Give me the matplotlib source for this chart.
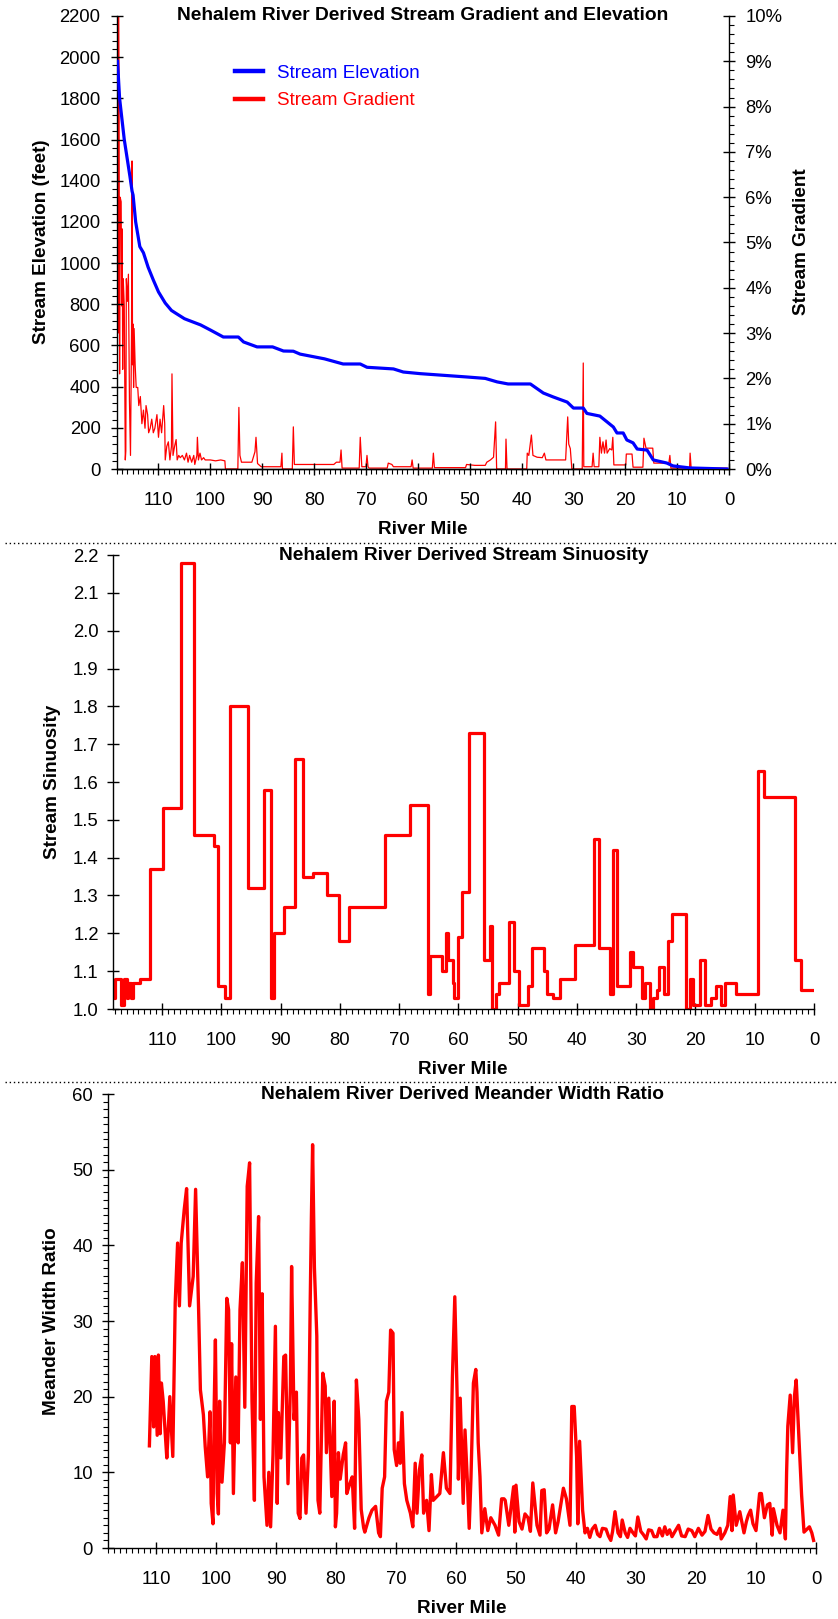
import numpy as np
import matplotlib.pyplot as plt
from matplotlib.lines import Line2D
from matplotlib.ticker import MultipleLocator, FuncFormatter

plt.rcParams['font.family'] = ['Liberation Sans', 'DejaVu Sans']

# stream elevation profile (river mile, feet)
elev_mile = [117.9, 117.5, 116.6, 115.5, 115.1, 114.9, 114.4, 113.6, 112.9, 112.0,
             111.0, 110.0, 108.7, 107.5, 106.7, 105.0, 104.4, 101.9, 100.0, 97.5,
             94.6, 93.6, 91.0, 88.0, 85.9, 84.0, 82.7, 78.0, 74.4, 71.1,
             69.8, 64.7, 62.8, 59.5, 50.6, 47.0, 44.7, 42.6, 38.3, 35.8,
             33.9, 31.2, 30.0, 28.1, 27.4, 24.9, 22.3, 21.6, 20.4, 19.7,
             18.5, 17.7, 15.8, 14.6, 12.0, 10.8, 7.5, 0.4]
elev_ft = [1980, 1800, 1600, 1420, 1350, 1330, 1200, 1080, 1050, 980,
           918, 860, 806, 770, 757, 730, 724, 700, 675, 641,
           641, 617, 593, 593, 573, 572, 558, 535, 510, 510,
           494, 486, 471, 463, 447, 440, 423, 413, 413, 369,
           350, 325, 296, 296, 270, 257, 204, 175, 175, 141,
           127, 97, 92, 44, 29, 15, 5, 0]

# stream gradient (river mile, percent)
grad_mile = [118.0, 117.9, 117.8, 117.7, 117.6, 117.5, 117.4, 117.2, 117.1, 117.0,
             116.9, 116.8, 116.6, 116.4, 116.3, 116.2, 116.0, 115.8, 115.6, 115.4,
             115.2, 115.1, 115.0, 114.9, 114.8, 114.7, 114.5, 114.3, 114.0, 113.8,
             113.5, 113.2, 112.9, 112.6, 112.4, 112.1, 111.9, 111.6, 111.3, 111.0,
             110.7, 110.3, 110.0, 109.7, 109.4, 109.0, 108.8, 108.7, 108.4, 108.1,
             107.8, 107.5, 107.4, 107.2, 106.9, 106.6, 106.4, 106.1, 105.8, 105.4,
             105.0, 104.6, 104.3, 104.0, 103.6, 103.2, 103.0, 102.6, 102.5, 102.3,
             102.0, 101.7, 101.3, 101.0, 100.6, 100.0, 99.0, 98.0, 97.2, 97.1,
             94.7, 94.5, 94.3, 94.0, 93.0, 92.0, 91.4, 91.2, 90.9, 90.2,
             88.0, 86.4, 86.2, 86.1, 84.2, 84.0, 83.8, 80.0, 76.2, 75.7,
             75.0, 74.8, 74.6, 71.3, 71.1, 70.8, 70.0, 69.8, 69.6, 69.4,
             65.9, 65.7, 65.0, 64.7, 61.3, 61.1, 60.9, 57.2, 57.0, 56.8,
             50.8, 50.6, 49.0, 47.0, 46.7, 46.0, 45.4, 45.0, 44.8, 43.1,
             43.0, 42.8, 39.0, 38.9, 38.6, 38.1, 37.8, 37.0, 36.0, 35.6,
             35.3, 33.0, 31.5, 31.1, 30.9, 30.6, 30.3, 28.3, 28.1, 28.0,
             26.4, 26.2, 26.0, 25.1, 24.9, 24.6, 24.3, 24.0, 23.7, 23.5,
             23.0, 22.6, 22.4, 22.2, 19.9, 19.8, 18.7, 18.5, 16.6, 16.4,
             16.0, 14.7, 14.5, 11.6, 11.4, 11.2, 7.6, 7.5, 7.3, 0.4]
grad_pct = [7.5, 10.0, 3.0, 10.0, 8.2, 2.1, 6.0, 5.9, 3.6, 5.3,
            2.2, 4.2, 3.6, 0.2, 0.4, 4.2, 3.7, 4.3, 1.5, 0.3,
            3.0, 6.8, 2.3, 3.2, 1.8, 3.1, 2.3, 1.8, 1.8, 1.4,
            1.6, 1.0, 1.3, 0.9, 1.4, 1.2, 0.8, 0.9, 1.1, 0.8,
            0.9, 1.2, 0.7, 1.1, 0.8, 1.4, 1.0, 0.2, 0.5, 0.6,
            0.2, 0.5, 2.1, 0.3, 0.5, 0.65, 0.2, 0.3, 0.25, 0.3,
            0.2, 0.35, 0.15, 0.3, 0.15, 0.3, 0.1, 0.3, 0.7, 0.2,
            0.35, 0.2, 0.25, 0.2, 0.2, 0.2, 0.18, 0.2, 0.18, 0.0,
            0.0, 1.36, 0.3, 0.15, 0.15, 0.15, 0.38, 0.7, 0.12, 0.05,
            0.05, 0.05, 0.35, 0.0, 0.0, 0.93, 0.1, 0.1, 0.1, 0.15,
            0.15, 0.42, 0.02, 0.02, 0.7, 0.05, 0.05, 0.3, 0.05, 0.02,
            0.02, 0.13, 0.1, 0.05, 0.05, 0.2, 0.02, 0.02, 0.35, 0.03,
            0.03, 0.1, 0.08, 0.08, 0.15, 0.2, 0.26, 1.04, 0.0, 0.0,
            0.66, 0.0, 0.0, 0.35, 0.3, 0.75, 0.3, 0.26, 0.25, 0.35,
            0.2, 0.2, 0.2, 1.15, 0.55, 0.45, 0.0, 0.0, 2.34, 0.05,
            0.05, 0.35, 0.05, 0.05, 0.7, 0.35, 0.6, 0.35, 0.64, 0.35,
            0.45, 0.42, 0.7, 0.09, 0.09, 0.33, 0.33, 0.04, 0.04, 0.68,
            0.46, 0.46, 0.13, 0.13, 0.3, 0.02, 0.02, 0.35, 0.02, 0.02]

# stream sinuosity: reach boundaries (river mile) and value of each reach
sin_mile = [118.1, 117.9, 117.0, 116.4, 116.0, 115.7, 115.3, 115.0, 113.7, 112.0,
            109.9, 106.8, 104.7, 101.2, 100.5, 99.4, 98.5, 95.6, 92.8, 91.7,
            91.1, 89.5, 87.6, 86.2, 84.6, 82.2, 80.1, 78.4, 72.4, 68.1,
            65.2, 64.8, 62.8, 62.1, 61.7, 61.0, 60.7, 60.1, 59.4, 58.3,
            55.7, 54.7, 54.3, 53.7, 53.1, 51.5, 50.7, 49.8, 48.3, 47.6,
            45.6, 45.1, 44.0, 42.9, 40.4, 37.2, 36.2, 34.4, 33.9, 33.3,
            31.0, 30.5, 29.1, 28.5, 27.7, 27.1, 26.5, 26.1, 25.3, 24.6,
            23.9, 21.6, 20.9, 20.5, 19.2, 18.4, 17.3, 16.6, 15.7, 15.1,
            13.2, 9.4, 8.4, 3.2, 2.2, 0.2]
sin_val = [1.03, 1.08, 1.01, 1.08, 1.03, 1.07, 1.03, 1.07, 1.08, 1.37,
           1.53, 2.18, 1.46, 1.43, 1.06, 1.03, 1.80, 1.32, 1.58, 1.03,
           1.20, 1.27, 1.66, 1.35, 1.36, 1.30, 1.18, 1.27, 1.46, 1.54,
           1.04, 1.14, 1.10, 1.20, 1.13, 1.07, 1.03, 1.19, 1.31, 1.73,
           1.13, 1.22, 1.00, 1.04, 1.07, 1.23, 1.10, 1.01, 1.06, 1.16,
           1.10, 1.04, 1.03, 1.08, 1.17, 1.45, 1.16, 1.04, 1.42, 1.06,
           1.15, 1.11, 1.03, 1.07, 1.00, 1.03, 1.05, 1.11, 1.04, 1.18,
           1.25, 1.00, 1.08, 1.01, 1.13, 1.01, 1.03, 1.06, 1.01, 1.07,
           1.04, 1.63, 1.56, 1.13, 1.05, 1.05]

# meander width ratio (river mile, ratio)
mwr_mile = [111.1, 110.7, 110.4, 110.2, 109.8, 109.6, 109.3, 109.1, 108.8, 108.2,
            108.0, 107.7, 107.2, 106.8, 106.4, 106.1, 105.8, 105.3, 104.9, 104.4,
            103.8, 103.4, 102.9, 102.6, 102.1, 101.8, 101.4, 101.0, 100.8, 100.5,
            100.3, 100.1, 99.8, 99.6, 99.4, 99.0, 98.6, 98.2, 97.9, 97.6,
            97.4, 97.1, 96.7, 96.3, 96.0, 95.6, 95.2, 94.8, 94.4, 94.0,
            93.6, 93.3, 92.9, 92.6, 92.3, 92.0, 91.5, 91.2, 90.9, 90.5,
            90.1, 89.8, 89.6, 89.2, 88.7, 88.4, 88.0, 87.6, 87.4, 87.0,
            86.6, 86.3, 86.0, 85.7, 85.4, 85.0, 84.6, 84.3, 84.1, 83.9,
            83.6, 83.2, 83.0, 82.7, 82.2, 81.8, 81.6, 81.2, 80.7, 80.3,
            80.1, 79.9, 79.6, 79.3, 78.8, 78.4, 78.2, 77.7, 77.3, 76.9,
            76.6, 76.2, 75.8, 75.4, 75.2, 74.5, 74.0, 73.4, 72.9, 72.6,
            72.3, 71.9, 71.6, 71.2, 70.9, 70.5, 70.3, 69.9, 69.6, 69.3,
            69.0, 68.6, 68.2, 67.6, 67.2, 66.8, 66.5, 66.1, 65.7, 65.4,
            64.9, 64.5, 64.1, 63.8, 63.2, 62.7, 62.1, 61.6, 61.0, 60.6,
            60.2, 59.8, 59.6, 59.3, 58.8, 58.5, 58.1, 57.8, 57.5, 57.1,
            56.7, 56.5, 56.3, 56.0, 55.7, 55.2, 54.7, 54.2, 53.5, 52.9,
            52.4, 52.0, 51.8, 51.2, 50.4, 50.2, 50.0, 49.5, 49.0, 48.5,
            48.0, 47.6, 47.2, 46.5, 46.0, 45.7, 45.3, 44.9, 44.5, 43.9,
            43.4, 43.0, 42.5, 42.1, 41.6, 41.0, 40.7, 40.3, 39.9, 39.7,
            39.4, 38.9, 38.5, 38.1, 37.7, 37.3, 36.8, 36.4, 36.0, 35.6,
            35.0, 34.6, 34.2, 33.9, 33.5, 33.0, 32.6, 32.3, 31.8, 31.4,
            31.0, 30.5, 30.1, 29.7, 29.2, 28.8, 28.3, 27.9, 27.4, 27.0,
            26.5, 26.1, 25.6, 25.2, 24.8, 24.4, 24.0, 23.5, 22.9, 22.4,
            21.8, 21.3, 20.7, 20.2, 19.6, 19.0, 18.5, 18.0, 17.5, 17.0,
            16.5, 16.0, 15.8, 15.2, 14.7, 14.3, 14.0, 13.8, 13.3, 12.7,
            12.0, 11.6, 11.3, 10.9, 10.5, 10.0, 9.4, 9.1, 8.6, 8.1,
            7.7, 7.3, 7.1, 6.5, 6.0, 5.5, 5.1, 4.9, 4.7, 4.3,
            3.9, 3.6, 3.3, 2.9, 2.7, 2.4, 2.0, 1.5, 1.1, 0.7, 0.4]
mwr_val = [13.5, 25.3, 16.0, 25.3, 14.9, 25.5, 15.1, 21.8, 19.4, 11.9,
           14.9, 20.0, 12.1, 32.4, 40.3, 32.0, 40.3, 44.7, 47.5, 32.0,
           35.9, 47.4, 31.5, 20.9, 17.6, 13.4, 9.4, 18.0, 5.9, 3.2,
           18.8, 27.5, 7.2, 4.5, 19.4, 8.7, 13.9, 33.0, 31.5, 13.9,
           27.0, 7.2, 22.6, 13.9, 31.5, 37.7, 18.6, 47.8, 50.9, 19.4,
           6.3, 35.0, 43.8, 17.0, 33.6, 9.4, 3.0, 10.0, 2.8, 12.3,
           29.3, 5.9, 17.9, 11.9, 25.3, 25.5, 8.5, 21.4, 37.2, 17.0,
           20.6, 4.6, 3.9, 11.9, 12.3, 4.6, 12.3, 32.4, 43.8, 53.3,
           37.1, 28.0, 6.3, 4.6, 23.1, 21.4, 12.6, 19.8, 6.8, 19.4,
           2.8, 4.6, 12.6, 9.1, 12.3, 13.9, 7.2, 8.5, 9.4, 2.6,
           22.2, 17.0, 5.1, 2.7, 2.1, 4.0, 5.0, 5.5, 2.0, 1.5,
           7.9, 9.4, 19.4, 20.6, 28.8, 28.4, 13.0, 10.9, 13.9, 11.2,
           17.9, 8.5, 6.3, 4.6, 2.8, 11.2, 4.6, 10.3, 12.3, 4.6,
           6.3, 2.3, 9.7, 6.3, 6.8, 7.2, 12.6, 7.9, 7.2, 22.6,
           33.2, 19.8, 9.1, 19.8, 5.9, 15.6, 8.7, 2.6, 9.4, 21.8,
           23.6, 20.6, 13.9, 9.4, 2.0, 5.2, 2.3, 4.0, 3.0, 1.7,
           6.5, 6.5, 6.3, 3.0, 8.1, 2.1, 8.3, 3.5, 2.5, 4.5,
           4.0, 2.2, 8.6, 3.0, 1.7, 7.6, 7.7, 2.0, 2.5, 5.7,
           2.0, 3.4, 5.9, 7.9, 6.5, 3.0, 18.7, 18.7, 12.1, 3.2,
           14.1, 5.0, 2.0, 2.6, 1.4, 2.5, 3.0, 1.8, 1.5, 2.6,
           2.5, 1.6, 1.0, 2.2, 4.8, 2.0, 1.5, 3.7, 2.0, 1.4,
           2.6, 2.0, 1.6, 4.1, 2.2, 1.8, 1.2, 2.4, 2.3, 1.5,
           1.5, 2.6, 1.6, 2.8, 1.8, 2.4, 1.5, 2.2, 3.0, 1.6,
           1.5, 2.5, 2.3, 1.5, 2.6, 1.7, 2.2, 4.3, 2.5, 2.0,
           1.8, 2.6, 1.2, 2.0, 3.0, 6.8, 2.3, 7.0, 3.0, 4.8,
           2.0, 3.5, 4.3, 5.0, 3.2, 2.3, 7.2, 7.2, 4.0, 5.7,
           5.9, 1.7, 5.2, 3.0, 2.0, 5.0, 1.2, 10.0, 16.1, 20.2,
           12.6, 20.0, 22.2, 15.4, 12.1, 7.0, 2.1, 2.5, 2.8, 2.0, 1.0]

mile_ticks = list(range(0, 111, 10))

W, H = 838, 1619
fig = plt.figure(figsize=(W / 100, H / 100), dpi=100)

TICK_FS = 13.3
LAB_FS = 13.6


def box(l, t, r, b):
    # pixel box -> figure fraction
    return [l / W, 1 - b / H, (r - l) / W, (b - t) / H]


def style(ax, ypad=7.5):
    ax.tick_params(which='major', direction='inout', length=8.6, width=1, labelsize=TICK_FS)
    ax.tick_params(which='minor', direction='out', length=3.6, width=0.8)
    ax.tick_params(axis='x', which='major', pad=12)
    ax.tick_params(axis='y', which='major', pad=ypad)
    for s in ax.spines.values():
        s.set_linewidth(1)


RED = '#FF0000'
BLUE = '#0000FF'

# ---- panel 1: elevation + gradient
ax1 = fig.add_axes(box(117, 16, 729, 469))
ax1.plot(elev_mile, elev_ft, color=BLUE, lw=2.3, zorder=3)
ax1.set_xlim(118, 0)
ax1.set_ylim(0, 2200)
ax1.set_xticks(mile_ticks)
ax1.xaxis.set_minor_locator(MultipleLocator(1))
ax1.yaxis.set_major_locator(MultipleLocator(200))
ax1.yaxis.set_minor_locator(MultipleLocator(40))
ax1.spines['top'].set_visible(False)
ax1.spines['right'].set_visible(False)
style(ax1, ypad=7.5)

ax2 = ax1.twinx()
ax2.plot(grad_mile, grad_pct, color=RED, lw=0.9)
ax2.set_ylim(0, 10)
ax2.yaxis.set_major_locator(MultipleLocator(1))
ax2.yaxis.set_minor_locator(MultipleLocator(0.2))
ax2.yaxis.set_major_formatter(FuncFormatter(lambda v, p: f'{v:.0f}%'))
ax2.spines['top'].set_visible(False)
ax2.spines['left'].set_visible(False)
style(ax2, ypad=7.5)
ax1.set_zorder(ax2.get_zorder() + 1)
ax1.patch.set_visible(False)

leg = ax1.legend([Line2D([], [], color=BLUE, lw=3.2), Line2D([], [], color=RED, lw=3.2)],
                 ['Stream Elevation', 'Stream Gradient'],
                 loc='upper left', bbox_to_anchor=(0.193, 0.892), frameon=False,
                 fontsize=13.5, handlelength=1.5, handletextpad=0.75,
                 labelspacing=0.55, borderpad=0, borderaxespad=0)
for t, c in zip(leg.get_texts(), [BLUE, RED]):
    t.set_color(c)

ax1.text(0.5, 1.0, 'Nehalem River Derived Stream Gradient and Elevation',
         transform=ax1.transAxes, ha='center', va='center', fontsize=13.8, fontweight='bold')
fig.text(41 / W, 1 - 242 / H, 'Stream Elevation (feet)', rotation=90, ha='center',
         va='center', fontsize=LAB_FS, fontweight='bold')
fig.text(801 / W, 1 - 242 / H, 'Stream Gradient', rotation=90, ha='center',
         va='center', fontsize=LAB_FS, fontweight='bold')
fig.text(423 / W, 1 - 530 / H, 'River Mile', ha='center', va='center',
         fontsize=LAB_FS, fontweight='bold')

# ---- panel 2: sinuosity
ax3 = fig.add_axes(box(113, 555, 814, 1009))
ax3.step(sin_mile, sin_val, where='post', color=RED, lw=2.3)
ax3.set_xlim(118.3, 0)
ax3.set_ylim(1.0, 2.2)
ax3.set_xticks(mile_ticks)
ax3.xaxis.set_minor_locator(MultipleLocator(1))
ax3.yaxis.set_major_locator(MultipleLocator(0.1))
ax3.yaxis.set_major_formatter(FuncFormatter(lambda v, p: f'{v:.1f}'))
ax3.spines['top'].set_visible(False)
ax3.spines['right'].set_visible(False)
style(ax3, ypad=6)
ax3.text(0.5, 1.0, 'Nehalem River Derived Stream Sinuosity',
         transform=ax3.transAxes, ha='center', va='center', fontsize=13.8, fontweight='bold')
fig.text(53 / W, 1 - 782 / H, 'Stream Sinuosity', rotation=90, ha='center',
         va='center', fontsize=LAB_FS, fontweight='bold')
fig.text(463 / W, 1 - 1069 / H, 'River Mile', ha='center', va='center',
         fontsize=LAB_FS, fontweight='bold')

# ---- panel 3: meander width ratio
ax4 = fig.add_axes(box(108, 1094, 816, 1548))
ax4.plot(mwr_mile, mwr_val, color=RED, lw=2.4)
ax4.set_xlim(118, 0)
ax4.set_ylim(0, 60)
ax4.set_xticks(mile_ticks)
ax4.xaxis.set_minor_locator(MultipleLocator(1))
ax4.yaxis.set_major_locator(MultipleLocator(10))
ax4.yaxis.set_minor_locator(MultipleLocator(1))
ax4.spines['top'].set_visible(False)
ax4.spines['right'].set_visible(False)
style(ax4, ypad=6.5)
ax4.text(0.5, 1.0, 'Nehalem River Derived Meander Width Ratio',
         transform=ax4.transAxes, ha='center', va='center', fontsize=13.8, fontweight='bold')
fig.text(52 / W, 1 - 1321 / H, 'Meander Width Ratio', rotation=90, ha='center',
         va='center', fontsize=LAB_FS, fontweight='bold')
fig.text(462 / W, 1 - 1608 / H, 'River Mile', ha='center', va='center',
         fontsize=LAB_FS, fontweight='bold')

# dotted separators between panels
for y in (543, 1082):
    fig.add_artist(Line2D([5 / W, 1], [1 - y / H, 1 - y / H], transform=fig.transFigure,
                          color='black', lw=1, linestyle=(0, (1, 2))))

fig.savefig('out.png', dpi=100)
